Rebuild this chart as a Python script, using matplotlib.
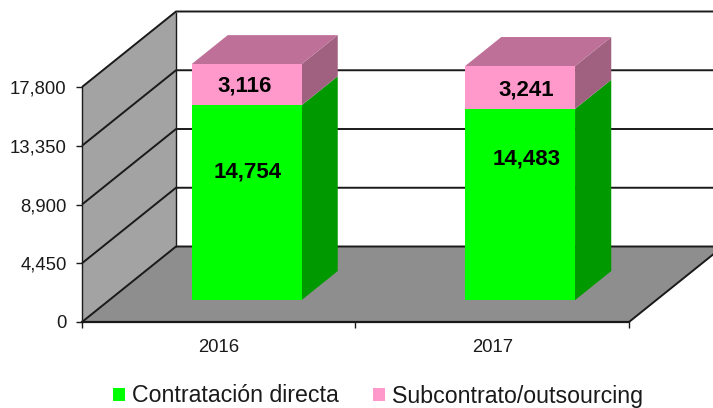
#!/usr/bin/env python3
# -*- coding: utf-8 -*-
"""
Stacked 3D-look column chart: contratacion directa vs subcontrato/outsourcing
"""
import matplotlib
matplotlib.use('Agg')
import matplotlib.pyplot as plt
from matplotlib.patches import Polygon, Patch

years = ['2016', '2017']
directa = [14754, 14483]
subcontrato = [3116, 3241]
yticks = [0, 4450, 8900, 13350, 17800]

plt.rcParams['font.family'] = ['Liberation Sans', 'DejaVu Sans']

W, H = 713, 408
fig = plt.figure(figsize=(W/100, H/100), dpi=100)
# axes box is the front plane of the chart, in pixels of the image
ax = fig.add_axes([82/W, 1 - 322/H, (629-82)/W, (322-87)/H])
ax.set_xlim(0, 2)
ax.set_ylim(0, 17800)

# depth of the box, in data units of each axis
dx = 94 / (547/2)
dy = 75.5 / (235/17800)


def pt(x, y, d):
    """project a point at depth d (0 front, 1 back) onto the axes"""
    return (x + d*dx, y + d*dy)


def face(corners, color, z):
    ax.add_patch(Polygon([pt(*c) for c in corners], closed=True, facecolor=color,
                         edgecolor='none', clip_on=False, zorder=z))


def line(points, lw=1.4, z=2):
    xs, ys = zip(*[pt(*p) for p in points])
    ax.plot(xs, ys, color='#1a1a1a', lw=lw, clip_on=False, zorder=z,
            solid_capstyle='butt')


# walls and floor
face([(0, 0, 0), (0, 0, 1), (0, 17800, 1), (0, 17800, 0)], '#a3a3a3', 1)
face([(0, 0, 0), (2, 0, 0), (2, 0, 1), (0, 0, 1)], '#8e8e8e', 1)

# grid lines run along the side wall and then along the back wall
for v in yticks:
    line([(0, v, 0), (0, v, 1), (2, v, 1)])
line([(0, 17800, 1), (0, 0, 1)], lw=1.0)
line([(2, 0, 0), (2, 0, 1)])

# columns
width = 110 / (547/2)
d0, d1 = 0.29, 0.675
for i in range(len(years)):
    x0 = i + 0.5 - width/2 + 0.002
    x1 = x0 + width
    a = directa[i]
    b = a + subcontrato[i]
    face([(x0, 0, d0), (x1, 0, d0), (x1, a, d0), (x0, a, d0)], '#00ff00', 5)
    face([(x1, 0, d0), (x1, 0, d1), (x1, a, d1), (x1, a, d0)], '#009900', 4)
    face([(x0, a, d0), (x1, a, d0), (x1, b, d0), (x0, b, d0)], '#ff99cc', 5)
    face([(x1, a, d0), (x1, a, d1), (x1, b, d1), (x1, b, d0)], '#a0607f', 4)
    face([(x0, b, d0), (x1, b, d0), (x1, b, d1), (x0, b, d1)], '#bf7099', 4)

# value labels were placed by hand on the original
label_a = [11365, 12350]
label_b = [17880, 17575]
label_ax = [0.607, 1.627]
label_bx = [0.596, 1.623]
for i in range(len(years)):
    ax.text(label_ax[i], label_a[i], format(directa[i], ','), ha='center', va='center',
            fontsize=16, fontweight='bold', color='black', zorder=6)
    ax.text(label_bx[i], label_b[i], format(subcontrato[i], ','), ha='center',
            va='center', fontsize=16, fontweight='bold', color='black', zorder=6)

for s in ['top', 'right']:
    ax.spines[s].set_visible(False)
for s in ['left', 'bottom']:
    ax.spines[s].set_color('#1a1a1a')
    ax.spines[s].set_zorder(3)
ax.spines['left'].set_linewidth(1.0)
ax.spines['bottom'].set_linewidth(1.6)
ax.patch.set_visible(False)

ax.set_yticks(yticks)
ax.set_yticklabels([format(v, ',') for v in yticks], fontsize=13.3, color='#1a1a1a')
ax.set_xticks([0, 1, 2])
ax.set_xticklabels([])
ax.set_xticks([0.5, 1.5], minor=True)
ax.set_xticklabels(years, minor=True, fontsize=13.3, color='#1a1a1a')
ax.tick_params(axis='x', which='minor', length=0, pad=12)
ax.tick_params(axis='both', which='major', length=4, width=1.0, color='#1a1a1a')
ax.tick_params(axis='y', pad=7)

handles = [Patch(facecolor='#00ff00', label='Contratación directa'),
           Patch(facecolor='#ff99cc', label='Subcontrato/outsourcing')]
fig.legend(handles=handles, ncol=2, loc='center', bbox_to_anchor=(378/W, 1 - 396/H),
           frameon=False, fontsize=16.7, handlelength=0.5, handleheight=0.5,
           handletextpad=0.3, columnspacing=1.5, labelcolor='#1a1a1a',
           borderaxespad=0, borderpad=0)

plt.savefig('out.png', dpi=100)
